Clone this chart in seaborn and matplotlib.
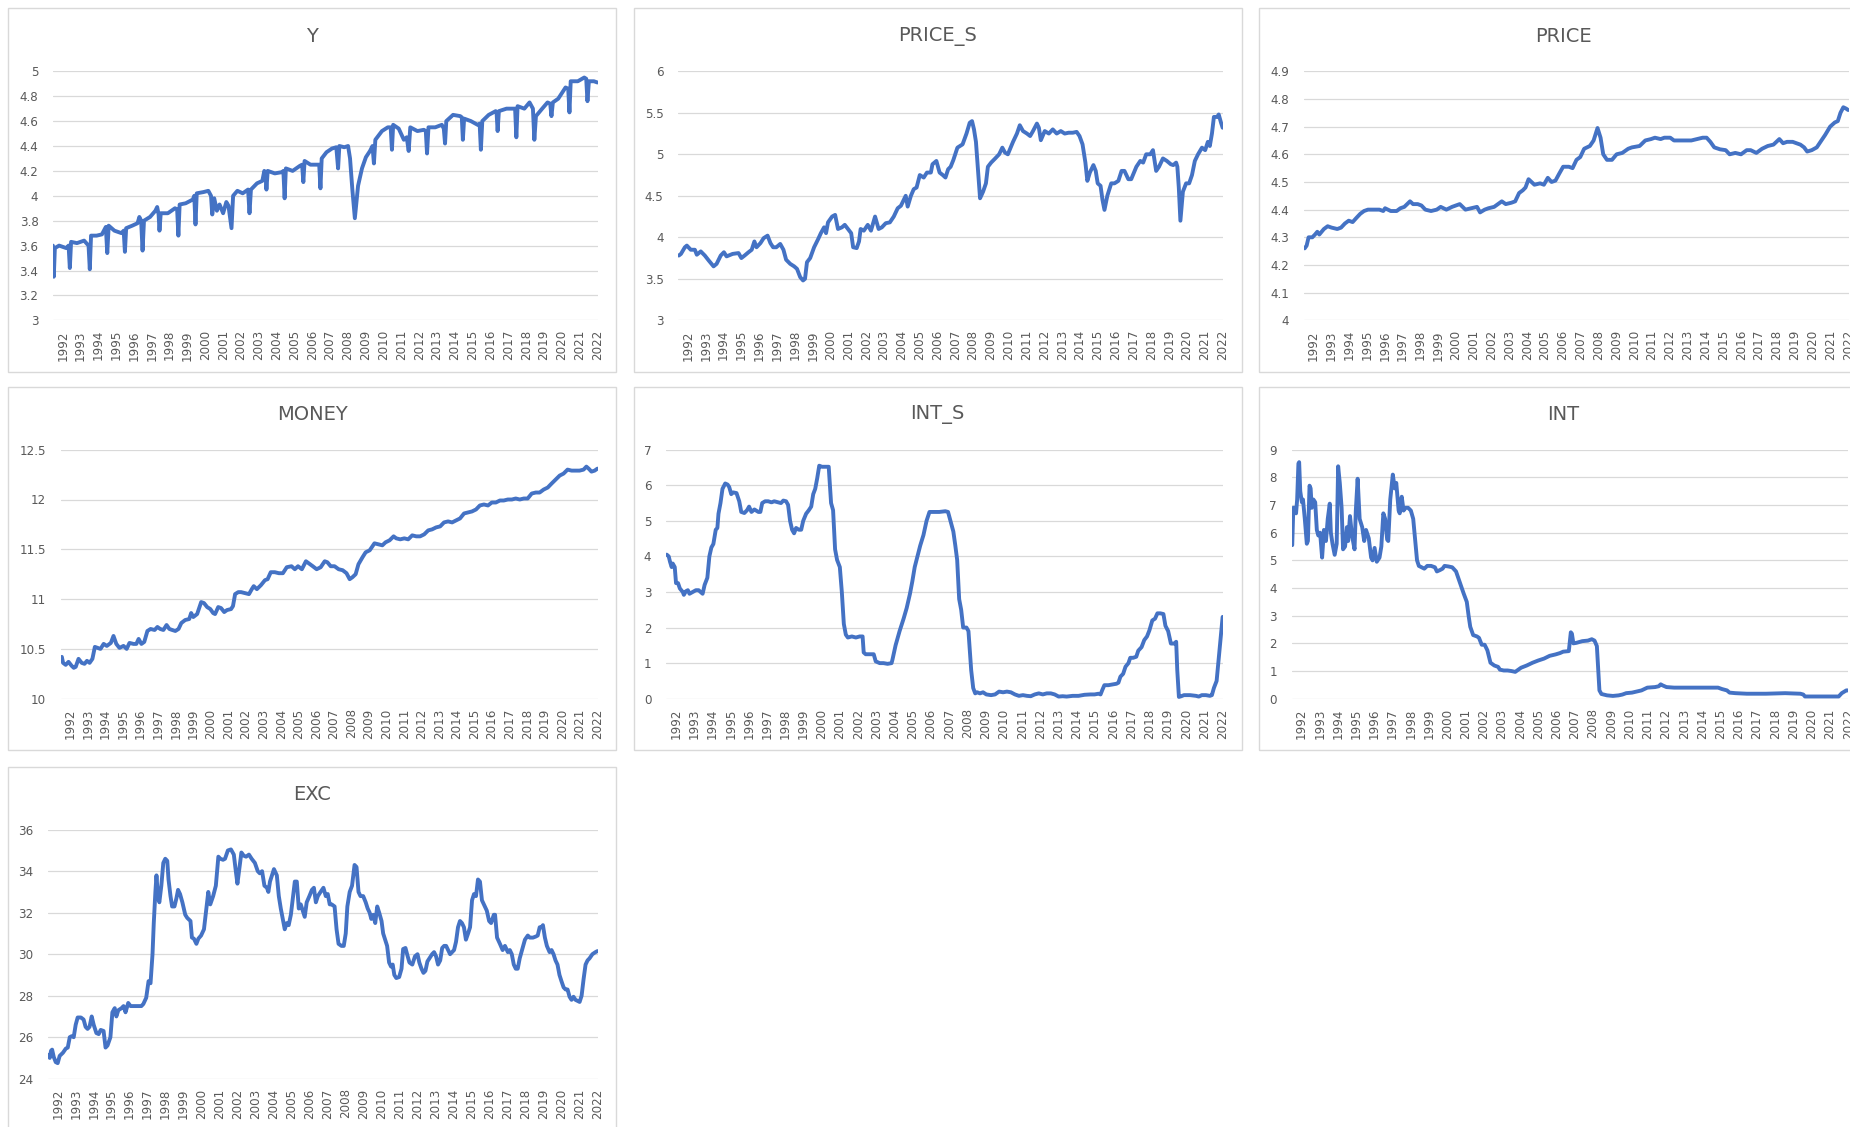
import matplotlib
matplotlib.use("Agg")
import matplotlib.pyplot as plt
import seaborn as sns
import pandas as pd
from matplotlib.patches import Rectangle

sns.set_theme(style="white")
plt.rcParams['font.family'] = ['DejaVu Sans']

# ---------------- data (decimal year, value) ----------------
Y_DATA = [(1991.45,3.60),(1991.50,3.35),(1991.56,3.58),(1991.8,3.60),(1992.0,3.59),(1992.2,3.58),(1992.33,3.60),(1992.40,3.42),(1992.47,3.63),(1992.8,3.62),
(1993.2,3.64),(1993.45,3.60),(1993.52,3.41),(1993.59,3.68),(1993.9,3.68),(1994.2,3.69),(1994.42,3.75),(1994.5,3.54),(1994.58,3.76),(1994.9,3.72),
(1995.3,3.70),(1995.42,3.72),(1995.49,3.55),(1995.56,3.74),(1995.9,3.76),(1996.2,3.78),(1996.3,3.83),(1996.4,3.80),(1996.48,3.56),(1996.56,3.80),
(1996.9,3.83),(1997.2,3.88),(1997.3,3.91),(1997.38,3.85),(1997.43,3.72),(1997.5,3.86),(1997.9,3.86),(1998.3,3.90),(1998.42,3.89),(1998.49,3.68),
(1998.56,3.93),(1998.9,3.94),(1999.3,3.97),(1999.38,4.00),(1999.45,3.77),(1999.52,4.02),(1999.9,4.03),(2000.17,4.04),(2000.32,4.00),(2000.39,3.85),
(2000.5,3.98),(2000.65,3.88),(2000.8,3.93),(2001.0,3.86),(2001.18,3.95),(2001.3,3.92),(2001.47,3.74),(2001.56,4.00),(2001.8,4.04),(2002.1,4.02),
(2002.4,4.05),(2002.48,3.86),(2002.56,4.05),(2002.9,4.10),(2003.2,4.12),(2003.31,4.20),(2003.38,4.18),(2003.43,4.05),(2003.5,4.20),(2003.9,4.18),
(2004.3,4.19),(2004.38,4.20),(2004.45,3.98),(2004.52,4.22),(2004.9,4.20),(2005.3,4.24),(2005.43,4.25),(2005.5,4.11),(2005.57,4.28),(2005.9,4.25),
(2006.3,4.25),(2006.39,4.25),(2006.46,4.06),(2006.53,4.30),(2006.8,4.35),(2007.11,4.38),(2007.35,4.39),(2007.45,4.22),(2007.52,4.40),(2007.8,4.39),
(2008.01,4.40),(2008.12,4.30),(2008.25,4.05),(2008.39,3.82),(2008.57,4.08),(2008.79,4.22),(2009.01,4.31),(2009.24,4.36),(2009.38,4.40),(2009.46,4.26),
(2009.54,4.45),(2009.91,4.52),(2010.24,4.55),(2010.4,4.55),(2010.47,4.37),(2010.54,4.57),(2010.85,4.54),(2011.14,4.45),(2011.3,4.47),(2011.41,4.36),
(2011.5,4.55),(2011.9,4.52),(2012.26,4.53),(2012.37,4.52),(2012.44,4.34),(2012.52,4.55),(2012.9,4.55),(2013.27,4.57),(2013.38,4.54),(2013.45,4.42),
(2013.52,4.60),(2013.9,4.65),(2014.3,4.64),(2014.39,4.63),(2014.45,4.45),(2014.52,4.62),(2014.9,4.60),(2015.28,4.57),(2015.39,4.58),(2015.46,4.37),
(2015.54,4.60),(2015.9,4.65),(2016.29,4.68),(2016.34,4.67),(2016.4,4.52),(2016.47,4.68),(2016.9,4.70),(2017.3,4.70),(2017.38,4.70),(2017.45,4.47),
(2017.52,4.72),(2017.9,4.70),(2018.19,4.75),(2018.38,4.70),(2018.46,4.45),(2018.55,4.64),(2018.9,4.70),(2019.2,4.75),(2019.35,4.74),(2019.42,4.64),
(2019.5,4.75),(2019.8,4.78),(2020.21,4.87),(2020.36,4.86),(2020.43,4.67),(2020.5,4.92),(2020.9,4.92),(2021.26,4.95),(2021.37,4.94),(2021.44,4.76),
(2021.52,4.92),(2021.8,4.92),(2022.0,4.91)]

PRICE_S_DATA = [(1991.49,3.78),(1991.61,3.80),(1991.83,3.88),(1991.94,3.90),(1992.16,3.85),(1992.39,3.85),(1992.50,3.79),(1992.72,3.83),(1992.95,3.78),(1993.17,3.72),
(1993.44,3.65),(1993.61,3.68),(1993.84,3.78),(1994.02,3.82),(1994.17,3.77),(1994.51,3.80),(1994.84,3.81),(1995.00,3.75),(1995.18,3.78),(1995.40,3.82),
(1995.58,3.85),(1995.73,3.95),(1995.85,3.88),(1996.07,3.93),(1996.25,3.99),(1996.47,4.02),(1996.63,3.93),(1996.78,3.88),(1996.96,3.88),(1997.18,3.92),
(1997.36,3.85),(1997.51,3.73),(1997.74,3.68),(1997.96,3.65),(1998.12,3.62),(1998.30,3.52),(1998.46,3.48),(1998.57,3.50),(1998.68,3.70),(1998.86,3.75),
(1999.08,3.88),(1999.31,3.98),(1999.46,4.05),(1999.64,4.12),(1999.75,4.05),(1999.86,4.18),(2000.09,4.25),(2000.26,4.27),(2000.42,4.10),(2000.64,4.12),
(2000.80,4.15),(2000.98,4.10),(2001.16,4.05),(2001.27,3.88),(2001.47,3.87),(2001.60,3.95),(2001.69,4.10),(2001.87,4.08),(2002.09,4.15),(2002.27,4.08),
(2002.50,4.25),(2002.70,4.10),(2002.88,4.12),(2003.10,4.17),(2003.33,4.18),(2003.55,4.25),(2003.77,4.35),(2003.95,4.38),(2004.11,4.45),(2004.22,4.50),
(2004.33,4.37),(2004.51,4.50),(2004.67,4.58),(2004.83,4.60),(2005.01,4.75),(2005.23,4.72),(2005.41,4.78),(2005.63,4.78),(2005.72,4.88),(2005.94,4.92),
(2006.12,4.78),(2006.30,4.75),(2006.45,4.72),(2006.60,4.82),(2006.74,4.85),(2006.89,4.93),(2007.12,5.08),(2007.41,5.12),(2007.63,5.25),(2007.81,5.38),
(2007.94,5.40),(2008.05,5.30),(2008.16,5.15),(2008.28,4.80),(2008.39,4.47),(2008.56,4.55),(2008.72,4.65),(2008.83,4.85),(2009.01,4.90),(2009.24,4.95),
(2009.46,5.00),(2009.64,5.08),(2009.79,5.02),(2009.95,5.00),(2010.24,5.15),(2010.46,5.25),(2010.62,5.35),(2010.80,5.28),(2011.02,5.25),(2011.20,5.22),
(2011.36,5.28),(2011.58,5.37),(2011.69,5.32),(2011.80,5.17),(2012.02,5.28),(2012.25,5.25),(2012.47,5.30),(2012.69,5.25),(2012.92,5.28),(2013.14,5.25),
(2013.36,5.26),(2013.59,5.26),(2013.81,5.27),(2013.97,5.22),(2014.14,5.12),(2014.30,4.90),(2014.41,4.68),(2014.55,4.78),(2014.75,4.87),(2014.88,4.80),
(2014.99,4.65),(2015.15,4.62),(2015.26,4.45),(2015.37,4.33),(2015.53,4.50),(2015.75,4.65),(2015.93,4.65),(2016.15,4.68),(2016.33,4.80),(2016.49,4.80),
(2016.71,4.70),(2016.87,4.70),(2017.16,4.85),(2017.38,4.92),(2017.54,4.90),(2017.71,5.00),(2017.94,5.00),(2018.09,5.05),(2018.27,4.80),(2018.43,4.85),
(2018.65,4.95),(2018.87,4.92),(2019.09,4.88),(2019.23,4.87),(2019.39,4.90),(2019.46,4.85),(2019.54,4.60),(2019.63,4.20),(2019.77,4.55),(2019.95,4.65),
(2020.12,4.65),(2020.28,4.75),(2020.44,4.92),(2020.62,5.00),(2020.84,5.08),(2021.02,5.05),(2021.17,5.15),(2021.28,5.10),(2021.40,5.25),(2021.51,5.45),
(2021.69,5.45),(2021.78,5.48),(2021.91,5.38),(2022.00,5.32)]

PRICE_DATA = [(1991.51,4.26),(1991.62,4.27),(1991.73,4.30),(1991.94,4.30),(1992.09,4.31),(1992.22,4.32),(1992.33,4.31),(1992.59,4.33),(1992.80,4.34),(1993.02,4.335),
(1993.34,4.33),(1993.55,4.335),(1993.77,4.35),(1993.98,4.36),(1994.20,4.355),(1994.41,4.37),(1994.63,4.385),(1994.84,4.395),(1995.06,4.40),(1995.27,4.40),
(1995.70,4.40),(1995.92,4.395),(1996.02,4.405),(1996.34,4.395),(1996.67,4.395),(1996.88,4.405),(1997.10,4.41),(1997.42,4.43),(1997.59,4.42),(1997.85,4.42),
(1998.06,4.415),(1998.28,4.40),(1998.60,4.395),(1998.92,4.40),(1999.14,4.41),(1999.46,4.40),(1999.78,4.41),(2000.21,4.42),(2000.53,4.40),(2000.85,4.405),
(2001.18,4.41),(2001.35,4.39),(2001.61,4.40),(2001.82,4.405),(2002.14,4.41),(2002.57,4.43),(2002.79,4.42),(2003.11,4.425),(2003.32,4.43),(2003.54,4.46),
(2003.75,4.47),(2003.90,4.48),(2004.07,4.51),(2004.40,4.49),(2004.72,4.495),(2004.93,4.49),(2005.15,4.515),(2005.36,4.50),(2005.58,4.505),(2005.79,4.53),
(2006.01,4.555),(2006.33,4.555),(2006.54,4.55),(2006.76,4.58),(2006.97,4.59),(2007.19,4.62),(2007.51,4.63),(2007.72,4.65),(2007.94,4.695),(2008.11,4.66),
(2008.26,4.60),(2008.47,4.58),(2008.75,4.58),(2009.01,4.60),(2009.33,4.605),(2009.66,4.62),(2009.87,4.625),(2010.30,4.63),(2010.62,4.65),(2010.94,4.655),
(2011.16,4.66),(2011.48,4.655),(2011.69,4.66),(2012.02,4.66),(2012.23,4.65),(2012.55,4.65),(2012.88,4.65),(2013.20,4.65),(2013.52,4.655),(2013.84,4.66),
(2014.06,4.66),(2014.27,4.645),(2014.49,4.625),(2014.81,4.618),(2015.13,4.615),(2015.35,4.60),(2015.67,4.605),(2015.99,4.60),(2016.31,4.615),(2016.53,4.615),
(2016.85,4.605),(2017.17,4.62),(2017.49,4.63),(2017.81,4.635),(2018.14,4.655),(2018.35,4.64),(2018.57,4.645),(2018.89,4.645),(2019.10,4.64),(2019.32,4.635),
(2019.53,4.625),(2019.70,4.61),(2019.96,4.615),(2020.24,4.625),(2020.50,4.65),(2020.71,4.67),(2020.99,4.70),(2021.25,4.715),(2021.42,4.72),(2021.57,4.75),
(2021.73,4.77),(2021.89,4.765),(2022.00,4.76)]

MONEY_DATA = [(1991.52,10.42),(1991.59,10.36),(1991.74,10.34),(1991.90,10.37),(1992.08,10.33),(1992.20,10.31),(1992.31,10.32),(1992.47,10.40),(1992.65,10.36),(1992.81,10.35),
(1992.95,10.38),(1993.10,10.36),(1993.26,10.40),(1993.40,10.52),(1993.56,10.51),(1993.72,10.50),(1993.90,10.55),(1994.08,10.53),(1994.31,10.56),(1994.46,10.63),
(1994.62,10.55),(1994.80,10.51),(1995.03,10.53),(1995.21,10.50),(1995.37,10.56),(1995.60,10.55),(1995.76,10.55),(1995.89,10.60),(1996.05,10.55),(1996.21,10.57),
(1996.39,10.68),(1996.57,10.70),(1996.80,10.69),(1996.96,10.72),(1997.12,10.70),(1997.30,10.69),(1997.48,10.74),(1997.64,10.70),(1997.80,10.69),(1997.98,10.68),
(1998.16,10.70),(1998.32,10.76),(1998.54,10.79),(1998.77,10.80),(1998.88,10.86),(1999.00,10.82),(1999.22,10.85),(1999.45,10.97),(1999.61,10.96),(1999.79,10.92),
(1999.97,10.90),(2000.13,10.86),(2000.24,10.85),(2000.42,10.92),(2000.58,10.91),(2000.76,10.87),(2000.92,10.89),(2001.15,10.90),(2001.26,10.93),(2001.38,11.05),
(2001.56,11.07),(2001.72,11.07),(2001.94,11.06),(2002.17,11.05),(2002.33,11.10),(2002.44,11.13),(2002.62,11.10),(2002.85,11.14),(2003.08,11.19),(2003.23,11.20),
(2003.41,11.27),(2003.64,11.27),(2003.87,11.26),(2004.10,11.26),(2004.32,11.32),(2004.59,11.33),(2004.78,11.30),(2004.96,11.33),(2005.18,11.30),(2005.41,11.38),
(2005.57,11.36),(2005.80,11.33),(2006.02,11.30),(2006.25,11.32),(2006.48,11.38),(2006.63,11.37),(2006.82,11.33),(2007.04,11.33),(2007.27,11.30),(2007.50,11.29),
(2007.72,11.26),(2007.90,11.20),(2008.06,11.22),(2008.24,11.25),(2008.40,11.35),(2008.63,11.42),(2008.81,11.47),(2009.04,11.49),(2009.31,11.56),(2009.54,11.55),
(2009.76,11.54),(2009.94,11.57),(2010.17,11.59),(2010.40,11.63),(2010.55,11.61),(2010.78,11.60),(2011.01,11.61),(2011.23,11.60),(2011.46,11.64),(2011.69,11.63),
(2011.91,11.63),(2012.14,11.65),(2012.37,11.69),(2012.59,11.70),(2012.82,11.72),(2013.05,11.73),(2013.27,11.77),(2013.50,11.78),(2013.73,11.77),(2013.95,11.79),
(2014.18,11.81),(2014.41,11.86),(2014.63,11.87),(2014.86,11.88),(2015.09,11.90),(2015.31,11.94),(2015.54,11.95),(2015.77,11.94),(2015.99,11.97),(2016.22,11.97),
(2016.45,11.99),(2016.67,11.99),(2016.90,12.00),(2017.13,12.00),(2017.35,12.01),(2017.58,12.00),(2017.81,12.01),(2018.03,12.01),(2018.26,12.06),(2018.49,12.07),
(2018.71,12.07),(2018.94,12.10),(2019.17,12.12),(2019.39,12.16),(2019.62,12.20),(2019.85,12.24),(2020.07,12.26),(2020.30,12.30),(2020.53,12.29),(2020.75,12.29),
(2020.98,12.29),(2021.21,12.30),(2021.37,12.33),(2021.50,12.31),(2021.66,12.28),(2021.84,12.29),(2022.00,12.31)]

INT_S_DATA = [(1991.49,4.05),(1991.60,4.0),(1991.67,3.85),(1991.76,3.70),(1991.82,3.80),(1991.93,3.70),(1992.00,3.25),(1992.11,3.25),(1992.21,3.10),(1992.37,3.0),
(1992.43,2.92),(1992.54,3.02),(1992.65,3.05),(1992.74,2.95),(1992.91,3.0),(1993.09,3.05),(1993.24,3.05),(1993.35,3.0),(1993.46,2.95),(1993.57,3.2),
(1993.72,3.4),(1993.83,4.0),(1993.94,4.25),(1994.05,4.35),(1994.18,4.75),(1994.27,4.8),(1994.33,5.2),(1994.44,5.5),(1994.55,5.9),(1994.70,6.05),
(1994.83,6.02),(1994.92,5.95),(1995.03,5.75),(1995.14,5.8),(1995.32,5.78),(1995.47,5.55),(1995.58,5.25),(1995.75,5.22),(1995.90,5.3),(1996.01,5.4),
(1996.14,5.25),(1996.30,5.32),(1996.52,5.25),(1996.63,5.25),(1996.73,5.5),(1996.89,5.55),(1997.06,5.55),(1997.24,5.52),(1997.39,5.55),(1997.61,5.52),
(1997.76,5.5),(1997.89,5.57),(1998.04,5.55),(1998.15,5.45),(1998.26,5.0),(1998.37,4.75),(1998.48,4.65),(1998.59,4.8),(1998.74,4.75),(1998.87,4.75),
(1998.98,5.0),(1999.14,5.2),(1999.29,5.3),(1999.42,5.4),(1999.53,5.75),(1999.64,5.9),(1999.75,6.2),(1999.86,6.55),(2000.01,6.52),(2000.23,6.52),
(2000.38,6.52),(2000.51,5.5),(2000.62,5.3),(2000.73,4.2),(2000.84,3.9),(2000.99,3.7),(2001.10,3.0),(2001.21,2.1),(2001.32,1.8),(2001.43,1.72),
(2001.65,1.75),(2001.87,1.72),(2002.08,1.75),(2002.24,1.75),(2002.30,1.3),(2002.41,1.25),(2002.63,1.25),(2002.85,1.25),(2002.96,1.05),(2003.18,1.0),
(2003.39,1.0),(2003.61,0.98),(2003.83,1.0),(2003.88,1.1),(2004.05,1.5),(2004.27,1.9),(2004.49,2.25),(2004.66,2.55),(2004.84,2.95),(2004.97,3.3),
(2005.10,3.7),(2005.25,4.0),(2005.40,4.3),(2005.58,4.6),(2005.75,5.0),(2005.91,5.25),(2006.13,5.25),(2006.45,5.25),(2006.78,5.27),(2006.93,5.25),
(2007.06,5.0),(2007.22,4.7),(2007.33,4.3),(2007.43,3.9),(2007.54,2.8),(2007.65,2.5),(2007.76,2.0),(2007.94,2.0),(2008.05,1.9),(2008.20,0.8),
(2008.31,0.3),(2008.42,0.15),(2008.53,0.18),(2008.68,0.15),(2008.85,0.18),(2009.03,0.12),(2009.29,0.10),(2009.51,0.12),(2009.73,0.2),(2009.95,0.18),
(2010.16,0.2),(2010.38,0.18),(2010.60,0.12),(2010.82,0.08),(2011.04,0.1),(2011.26,0.08),(2011.47,0.07),(2011.69,0.12),(2011.91,0.15),(2012.13,0.12),
(2012.35,0.15),(2012.57,0.15),(2012.78,0.12),(2013.00,0.06),(2013.22,0.07),(2013.44,0.06),(2013.77,0.08),(2014.09,0.08),(2014.42,0.11),(2014.75,0.12),
(2014.97,0.12),(2015.19,0.14),(2015.30,0.12),(2015.40,0.25),(2015.51,0.38),(2015.73,0.38),(2015.95,0.4),(2016.17,0.42),(2016.28,0.45),(2016.39,0.62),
(2016.54,0.7),(2016.67,0.9),(2016.83,1.0),(2016.93,1.15),(2017.09,1.15),(2017.26,1.18),(2017.37,1.35),(2017.55,1.45),(2017.70,1.65),(2017.85,1.75),
(2017.98,1.92),(2018.14,2.2),(2018.29,2.25),(2018.42,2.4),(2018.58,2.4),(2018.75,2.38),(2018.86,2.05),(2019.01,1.9),(2019.16,1.55),(2019.34,1.55),
(2019.45,1.6),(2019.51,0.8),(2019.60,0.05),(2019.73,0.07),(2019.88,0.1),(2020.21,0.1),(2020.54,0.08),(2020.69,0.06),(2020.86,0.1),(2021.08,0.1),
(2021.30,0.08),(2021.41,0.1),(2021.52,0.3),(2021.67,0.5),(2021.78,1.1),(2021.89,1.7),(2022.00,2.3)]

INT_DATA = [(1991.49,5.55),(1991.55,6.9),(1991.62,6.9),(1991.70,6.7),(1991.76,7.2),(1991.83,8.5),(1991.87,8.55),(1991.93,7.5),(1992.02,7.1),(1992.08,7.2),
(1992.18,6.5),(1992.29,5.6),(1992.35,5.7),(1992.44,7.7),(1992.50,7.6),(1992.56,6.9),(1992.65,7.2),(1992.75,7.1),(1992.84,6.1),(1992.92,5.9),
(1993.02,6.0),(1993.13,5.1),(1993.23,6.1),(1993.34,5.7),(1993.44,6.5),(1993.55,7.05),(1993.61,6.0),(1993.70,5.6),(1993.82,5.2),(1993.93,5.6),
(1994.01,8.4),(1994.10,7.8),(1994.20,6.9),(1994.28,5.4),(1994.39,5.5),(1994.49,6.2),(1994.56,5.7),(1994.66,6.6),(1994.77,5.9),(1994.91,5.4),
(1994.98,6.8),(1995.08,7.95),(1995.19,6.5),(1995.33,6.2),(1995.44,5.7),(1995.54,6.1),(1995.69,5.8),(1995.82,5.1),(1995.90,5.0),(1996.01,5.45),
(1996.13,4.95),(1996.28,5.1),(1996.38,5.5),(1996.49,6.7),(1996.59,6.5),(1996.70,5.75),(1996.76,5.7),(1996.87,7.2),(1997.01,8.1),(1997.12,7.6),
(1997.20,7.8),(1997.33,6.8),(1997.39,6.7),(1997.50,7.3),(1997.60,6.8),(1997.71,6.9),(1997.85,6.9),(1998.00,6.8),(1998.13,6.5),(1998.23,5.8),
(1998.34,5.0),(1998.44,4.8),(1998.59,4.75),(1998.74,4.7),(1998.90,4.8),(1999.11,4.8),(1999.32,4.75),(1999.43,4.6),(1999.60,4.65),(1999.74,4.7),
(1999.85,4.8),(2000.06,4.78),(2000.27,4.75),(2000.48,4.6),(2000.69,4.2),(2000.90,3.8),(2001.07,3.5),(2001.17,3.0),(2001.26,2.6),(2001.42,2.3),
(2001.63,2.25),(2001.74,2.2),(2001.89,1.95),(2002.05,1.95),(2002.20,1.75),(2002.37,1.3),(2002.58,1.2),(2002.79,1.15),(2002.89,1.05),(2003.10,1.02),
(2003.31,1.02),(2003.52,1.0),(2003.73,0.97),(2004.05,1.12),(2004.36,1.2),(2004.68,1.3),(2004.99,1.38),(2005.31,1.45),(2005.62,1.55),(2005.94,1.6),
(2006.19,1.65),(2006.36,1.7),(2006.67,1.72),(2006.78,2.4),(2006.84,2.35),(2006.92,2.0),(2007.09,2.02),(2007.41,2.08),(2007.72,2.1),(2007.93,2.15),
(2008.08,2.1),(2008.21,1.9),(2008.29,1.0),(2008.35,0.3),(2008.46,0.17),(2008.77,0.12),(2009.09,0.1),(2009.40,0.12),(2009.61,0.15),(2009.82,0.2),
(2010.14,0.22),(2010.45,0.27),(2010.66,0.3),(2010.98,0.4),(2011.40,0.42),(2011.61,0.45),(2011.71,0.52),(2011.82,0.48),(2012.03,0.42),(2012.45,0.4),
(2013.29,0.4),(2014.34,0.4),(2014.86,0.4),(2015.07,0.35),(2015.35,0.3),(2015.49,0.22),(2015.81,0.2),(2016.44,0.18),(2017.49,0.18),(2018.54,0.2),
(2019.38,0.18),(2019.54,0.15),(2019.63,0.08),(2020.01,0.08),(2020.64,0.08),(2021.27,0.08),(2021.48,0.08),(2021.65,0.2),(2021.90,0.3),(2022.00,0.3)]

EXC_DATA = [(1991.49,25.15),(1991.56,25.0),(1991.63,25.35),(1991.69,25.4),(1991.78,25.05),(1991.89,24.8),(1992.00,24.75),(1992.11,25.1),(1992.29,25.25),(1992.45,25.45),
(1992.56,25.5),(1992.67,26.0),(1992.78,26.05),(1992.89,26.0),(1993.00,26.6),(1993.11,26.95),(1993.29,26.95),(1993.44,26.85),(1993.55,26.5),(1993.66,26.4),
(1993.77,26.5),(1993.89,27.0),(1994.00,26.6),(1994.15,26.2),(1994.28,26.15),(1994.39,26.35),(1994.55,26.3),(1994.66,25.5),(1994.77,25.6),(1994.93,26.0),
(1995.04,27.2),(1995.17,27.4),(1995.26,27.0),(1995.37,27.3),(1995.55,27.4),(1995.66,27.5),(1995.77,27.2),(1995.92,27.65),(1996.05,27.5),(1996.21,27.5),
(1996.43,27.5),(1996.65,27.5),(1996.76,27.6),(1996.92,27.9),(1997.05,28.7),(1997.16,28.6),(1997.27,30.0),(1997.34,31.5),(1997.43,33.0),(1997.49,33.8),
(1997.58,32.7),(1997.65,32.5),(1997.76,33.3),(1997.87,34.4),(1997.98,34.6),(1998.09,34.5),(1998.16,33.6),(1998.27,32.8),(1998.36,32.3),(1998.49,32.3),
(1998.60,32.7),(1998.69,33.1),(1998.80,32.9),(1998.93,32.5),(1999.09,31.9),(1999.20,31.75),(1999.38,31.6),(1999.46,30.8),(1999.57,30.75),(1999.71,30.5),
(1999.82,30.75),(1999.97,30.9),(2000.13,31.2),(2000.26,32.2),(2000.37,33.0),(2000.48,32.4),(2000.64,32.8),(2000.79,33.3),(2000.93,34.7),(2001.04,34.6),
(2001.19,34.55),(2001.30,34.6),(2001.46,35.0),(2001.63,35.05),(2001.79,34.8),(2001.90,34.0),(2001.99,33.4),(2002.08,34.0),(2002.21,34.9),(2002.34,34.75),
(2002.47,34.7),(2002.63,34.8),(2002.78,34.6),(2002.96,34.4),(2003.12,34.0),(2003.23,33.9),(2003.36,34.0),(2003.49,33.3),(2003.63,33.2),(2003.71,33.0),
(2003.80,33.5),(2003.91,33.8),(2004.02,34.1),(2004.18,33.8),(2004.29,32.8),(2004.40,32.2),(2004.51,31.7),(2004.62,31.2),(2004.73,31.5),(2004.84,31.4),
(2004.96,31.9),(2005.07,32.7),(2005.18,33.5),(2005.29,33.5),(2005.40,32.2),(2005.51,32.4),(2005.62,32.1),(2005.73,31.8),(2005.84,32.5),(2005.99,32.8),
(2006.13,33.1),(2006.24,33.2),(2006.35,32.5),(2006.46,32.8),(2006.61,33.0),(2006.77,33.2),(2006.90,32.8),(2007.01,32.9),(2007.12,32.4),(2007.23,32.4),
(2007.39,32.3),(2007.50,31.2),(2007.61,30.5),(2007.77,30.4),(2007.90,30.4),(2008.01,31.0),(2008.10,32.3),(2008.23,33.0),(2008.36,33.3),(2008.50,34.3),
(2008.61,34.2),(2008.72,33.0),(2008.83,32.8),(2008.98,32.8),(2009.12,32.5),(2009.23,32.2),(2009.34,32.0),(2009.43,31.7),(2009.54,31.9),(2009.65,31.5),
(2009.76,32.3),(2009.87,32.0),(2010.00,31.6),(2010.09,31.0),(2010.20,30.7),(2010.31,30.4),(2010.42,29.6),(2010.53,29.4),(2010.62,29.5),(2010.71,29.0),
(2010.82,28.85),(2010.98,28.9),(2011.11,29.3),(2011.20,30.25),(2011.33,30.3),(2011.42,30.0),(2011.55,29.6),(2011.71,29.5),(2011.86,29.9),(2012.00,30.0),
(2012.10,29.6),(2012.22,29.3),(2012.33,29.1),(2012.44,29.2),(2012.55,29.65),(2012.66,29.8),(2012.81,30.0),(2012.92,30.1),(2013.03,29.9),(2013.14,29.5),
(2013.26,29.7),(2013.37,30.3),(2013.48,30.4),(2013.59,30.4),(2013.70,30.2),(2013.81,30.0),(2013.92,30.1),(2014.03,30.2),(2014.14,30.6),(2014.25,31.3),
(2014.36,31.6),(2014.47,31.5),(2014.58,31.3),(2014.69,30.7),(2014.81,31.0),(2014.92,31.3),(2015.03,32.6),(2015.14,32.9),(2015.25,32.8),(2015.36,33.6),
(2015.47,33.5),(2015.58,32.6),(2015.69,32.4),(2015.85,32.1),(2015.98,31.6),(2016.09,31.5),(2016.24,31.9),(2016.31,31.9),(2016.42,30.8),(2016.58,30.5),
(2016.73,30.2),(2016.86,30.4),(2017.02,30.1),(2017.13,30.2),(2017.24,30.0),(2017.35,29.5),(2017.46,29.3),(2017.57,29.3),(2017.68,29.8),(2017.84,30.3),
(2017.97,30.7),(2018.13,30.9),(2018.24,30.8),(2018.42,30.8),(2018.57,30.85),(2018.68,30.9),(2018.79,31.3),(2018.90,31.3),(2018.97,31.4),(2019.08,30.8),
(2019.19,30.4),(2019.34,30.1),(2019.45,30.2),(2019.56,30.0),(2019.67,29.7),(2019.78,29.5),(2019.89,29.0),(2020.00,28.7),(2020.12,28.4),(2020.23,28.3),
(2020.34,28.3),(2020.45,27.95),(2020.56,27.8),(2020.67,27.95),(2020.78,27.8),(2020.89,27.75),(2021.01,27.7),(2021.12,28.0),(2021.23,28.8),(2021.34,29.5),
(2021.45,29.7),(2021.56,29.8),(2021.72,30.0),(2021.89,30.1),(2022.00,30.15)]

YEARS = list(range(1992, 2023))
YEAR_LABELS = [str(y) for y in YEARS]

Y_TICKS = [3, 3.2, 3.4, 3.6, 3.8, 4, 4.2, 4.4, 4.6, 4.8, 5]
PRICE_S_TICKS = [3, 3.5, 4, 4.5, 5, 5.5, 6]
PRICE_TICKS = [4, 4.1, 4.2, 4.3, 4.4, 4.5, 4.6, 4.7, 4.8, 4.9]
MONEY_TICKS = [10, 10.5, 11, 11.5, 12, 12.5]
INT_S_TICKS = [0, 1, 2, 3, 4, 5, 6, 7]
INT_TICKS = [0, 1, 2, 3, 4, 5, 6, 7, 8, 9]
EXC_TICKS = [24, 26, 28, 30, 32, 34, 36]

# (title, column, row, left offset of plot area in box, ticks, data)
PANELS = [
    ("Y", 0, 0, 44.6, Y_TICKS, Y_DATA),
    ("PRICE_S", 1, 0, 44.6, PRICE_S_TICKS, PRICE_S_DATA),
    ("PRICE", 2, 0, 44.6, PRICE_TICKS, PRICE_DATA),
    ("MONEY", 0, 1, 52.3, MONEY_TICKS, MONEY_DATA),
    ("INT_S", 1, 1, 32.5, INT_S_TICKS, INT_S_DATA),
    ("INT", 2, 1, 32.5, INT_TICKS, INT_DATA),
    ("EXC", 0, 2, 39.5, EXC_TICKS, EXC_DATA),
]

# ---------------- layout / style ----------------
W, H = 1850, 1127
LINE = '#4472C4'
GRID = '#D9D9D9'
TEXT = '#595959'
COL_X = [8.3, 633.5, 1259.0]
ROW_Y = [8.3, 386.7, 766.7]
BOX_W, BOX_H = 608.0, 363.5
PLOT_TOP, PLOT_BOT, PLOT_RIGHT = 63.0, 312.0, 589.5

fig = plt.figure(figsize=(W / 100, H / 100), dpi=100)
fig.patch.set_facecolor('white')


def fmt(v):
    return ('%g' % round(v, 3))


for title, col, row, loff, ticks, data in PANELS:
    bx, by = COL_X[col], ROW_Y[row]
    fig.add_artist(Rectangle((bx / W, 1 - (by + BOX_H) / H), BOX_W / W, BOX_H / H,
                             transform=fig.transFigure, fill=False,
                             edgecolor=GRID, linewidth=1.0, zorder=0))
    left = bx + loff
    right = bx + PLOT_RIGHT
    top = by + PLOT_TOP
    bottom = by + PLOT_BOT
    ax = fig.add_axes([left / W, 1 - bottom / H, (right - left) / W, (bottom - top) / H])
    ax.set_facecolor('none')
    df = pd.DataFrame(data, columns=['t', 'v'])
    sns.lineplot(data=df, x='t', y='v', ax=ax, color=LINE, linewidth=2.8,
                 estimator=None, sort=False, zorder=3)
    ax.set_xlim(1991.45, 2022.02)
    ax.set_ylim(ticks[0], ticks[-1])
    ax.set_yticks(ticks)
    ax.set_yticklabels([fmt(t) for t in ticks])
    ax.set_xticks(YEARS)
    ax.set_xticklabels(YEAR_LABELS, rotation=90)
    ax.grid(axis='y', color=GRID, linewidth=0.9, zorder=0)
    ax.grid(axis='x', visible=False)
    ax.set_axisbelow(True)
    for s in ax.spines.values():
        s.set_visible(False)
    ax.tick_params(axis='both', length=0, colors=TEXT, labelsize=8.6)
    ax.tick_params(axis='x', pad=7)
    ax.tick_params(axis='y', pad=10.5)
    ax.set_xlabel('')
    ax.set_ylabel('')
    fig.text((bx + BOX_W / 2) / W, 1 - (by + 28) / H, title, ha='center', va='center',
             fontsize=14, color=TEXT)

fig.savefig('out.png', dpi=100, facecolor='white')
